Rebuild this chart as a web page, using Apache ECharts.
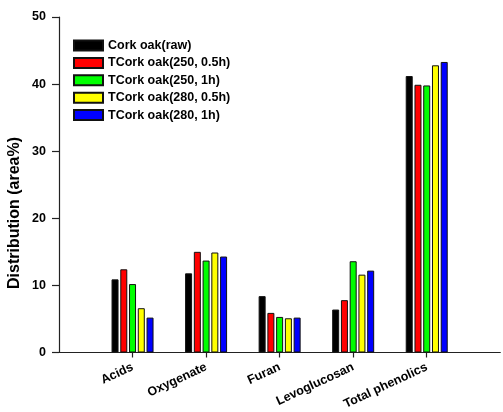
<!DOCTYPE html>
<html>
<head>
<meta charset="utf-8">
<script src="https://cdn.jsdelivr.net/npm/echarts@6/dist/echarts.min.js"></script>
<style>
  html, body { margin: 0; padding: 0; background: #fff; }
  #chart { width: 503px; height: 412px; }
</style>
</head>
<body>
<div id="chart"></div>
<script>
// Product groups (blank slots pad the axis on both ends)
const categories = ['', 'Acids', 'Oxygenate', 'Furan', 'Levoglucosan', 'Total phenolics', ''];

const seriesNames = [
  'Cork oak(raw)',
  'TCork oak(250, 0.5h)',
  'TCork oak(250, 1h)',
  'TCork oak(280, 0.5h)',
  'TCork oak(280, 1h)'
];

// Distribution (area%) per group
const corkRaw   = [null, 10.9, 11.8, 8.4, 6.4, 41.2, null];
const tc250h05  = [null, 12.4, 15.0, 5.9, 7.8, 39.9, null];
const tc250h1   = [null, 10.2, 13.7, 5.3, 13.6, 39.8, null];
const tc280h05  = [null, 6.6, 14.9, 5.1, 11.6, 42.8, null];
const tc280h1   = [null, 5.2, 14.3, 5.2, 12.2, 43.3, null];

const yTicks = [0, 10, 20, 30, 40, 50];

const seriesValues = [corkRaw, tc250h05, tc250h1, tc280h05, tc280h1];
const colors = ['#000000', '#ff0000', '#00ff00', '#ffff00', '#0000ff'];

const FONT = '"Liberation Sans", Arial, sans-serif';

const chart = echarts.init(document.getElementById('chart'), null, { renderer: 'canvas' });

chart.setOption({
  animation: false,
  backgroundColor: '#ffffff',
  grid: { left: 59, right: -1, top: 17, bottom: 59, containLabel: false },
  legend: {
    orient: 'vertical',
    left: 68,
    top: 34,
    icon: 'rect',
    itemWidth: 29,
    itemHeight: 10,
    itemGap: 4.4,
    textStyle: { fontFamily: FONT, fontWeight: 'bold', fontSize: 12.5, color: '#000' },
    data: seriesNames
  },
  xAxis: {
    type: 'category',
    data: categories,
    boundaryGap: false,
    axisLine: { lineStyle: { color: '#222', width: 1.2 } },
    axisTick: {
      length: 5,
      interval: (i) => i >= 1 && i <= 5,
      lineStyle: { color: '#222', width: 1.2 }
    },
    axisLabel: {
      rotate: 25,
      margin: 14,
      interval: 0,
      fontFamily: FONT,
      fontWeight: 'bold',
      fontSize: 12.5,
      color: '#000'
    },
    splitLine: { show: false }
  },
  yAxis: {
    type: 'value',
    min: yTicks[0],
    max: yTicks[yTicks.length - 1],
    interval: 10,
    axisLine: { show: true, lineStyle: { color: '#222', width: 1.2 } },
    axisTick: { show: true, length: 7, lineStyle: { color: '#222', width: 1.2 } },
    axisLabel: {
      margin: 13,
      fontFamily: FONT,
      fontWeight: 'bold',
      fontSize: 12.5,
      color: '#000'
    },
    splitLine: { show: false }
  },
  graphic: [{
    type: 'text',
    x: 7,
    y: 213,
    rotation: Math.PI / 2,
    style: {
      text: 'Distribution (area%)',
      font: 'bold 16px ' + FONT,
      fill: '#000',
      textAlign: 'center',
      textVerticalAlign: 'top'
    }
  }],
  series: seriesNames.map((name, i) => ({
    name: name,
    type: 'bar',
    data: seriesValues[i],
    barWidth: 7,
    barGap: '25%',
    itemStyle: {
      color: colors[i],
      borderColor: '#111',
      borderWidth: 1
    }
  }))
});
</script>
</body>
</html>
